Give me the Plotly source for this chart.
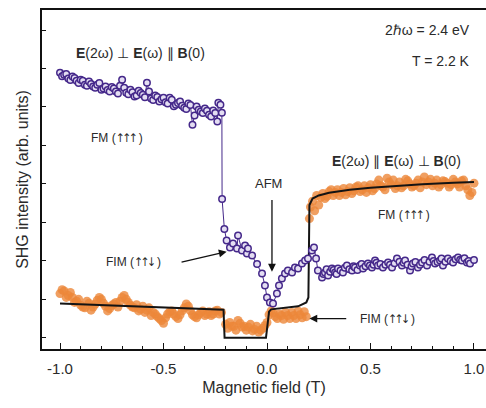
import plotly.graph_objects as go

# Sweep for E(2w) ⟂ E(w) ∥ B(0): open purple circles (sweep order)
purple_x = [
    -1.00, -0.99, -0.98, -0.97, -0.96, -0.95, -0.94, -0.93, -0.92, -0.91,
    -0.90, -0.89, -0.88, -0.87, -0.86, -0.85, -0.84, -0.83, -0.82, -0.81,
    -0.80, -0.79, -0.78, -0.77, -0.76, -0.75, -0.74, -0.73, -0.72, -0.71,
    -0.70, -0.69, -0.68, -0.67, -0.66, -0.65, -0.64, -0.63, -0.62, -0.61,
    -0.60, -0.59, -0.58, -0.57, -0.56, -0.55, -0.54, -0.53, -0.52, -0.51,
    -0.50, -0.49, -0.48, -0.47, -0.46, -0.45, -0.44, -0.43, -0.42, -0.41,
    -0.40, -0.39, -0.38, -0.37, -0.36, -0.35, -0.34, -0.33, -0.32, -0.31,
    -0.30, -0.29, -0.28, -0.27, -0.26, -0.25, -0.24, -0.235, -0.225, -0.218,
    -0.217, -0.206, -0.195, -0.179, -0.164, -0.145, -0.140, -0.121, -0.106, -0.097,
    -0.092, -0.072, -0.048, -0.024, -0.010, 0.000, 0.014, 0.029, 0.048, 0.058,
    0.072, 0.087, 0.101, 0.121, 0.135, 0.150, 0.169, 0.184, 0.198, 0.217,
    0.227, 0.237, 0.246, 0.266, 0.273, 0.280, 0.288, 0.295, 0.305, 0.314,
    0.322, 0.329, 0.336, 0.343, 0.355, 0.367, 0.376, 0.386, 0.398, 0.411,
    0.418, 0.425, 0.437, 0.449, 0.457, 0.464, 0.476, 0.488, 0.497, 0.507,
    0.515, 0.522, 0.529, 0.536, 0.548, 0.560, 0.572, 0.585, 0.594, 0.604,
    0.616, 0.628, 0.640, 0.652, 0.660, 0.667, 0.679, 0.691, 0.698, 0.705,
    0.717, 0.729, 0.739, 0.749, 0.761, 0.773, 0.785, 0.797, 0.805, 0.812,
    0.824, 0.836, 0.843, 0.850, 0.862, 0.874, 0.887, 0.899, 0.911, 0.923,
    0.933, 0.942, 0.954, 0.966, 0.974, 0.981, 1.000,
]
purple_y = [
    6.89, 6.80, 6.84, 6.86, 6.74, 6.70, 6.79, 6.75, 6.68, 6.62,
    6.71, 6.68, 6.58, 6.55, 6.66, 6.60, 6.53, 6.50, 6.58, 6.62,
    6.45, 6.48, 6.53, 6.44, 6.40, 6.52, 6.48, 6.40, 6.35, 6.55,
    6.71, 6.50, 6.37, 6.33, 6.45, 6.38, 6.27, 6.30, 6.42, 6.36,
    6.32, 6.25, 6.63, 6.40, 6.22, 6.18, 6.30, 6.26, 6.14, 6.20,
    6.24, 6.12, 6.09, 6.24, 6.19, 6.02, 6.06, 6.10, 6.14, 6.03,
    5.98, 5.95, 6.09, 6.05, 5.54, 5.78, 6.01, 5.93, 5.88, 5.84,
    5.96, 5.90, 5.80, 5.75, 5.91, 5.84, 5.62, 6.11, 6.06, 5.85,
    3.61, 2.83, 2.53, 2.35, 2.45, 2.32, 2.66, 2.27, 2.40, 2.19,
    2.32, 2.14, 1.92, 1.67, 1.36, 1.05, 0.92, 0.89, 1.15, 1.36,
    1.54, 1.67, 1.75, 1.70, 1.83, 1.80, 1.93, 2.01, 2.06, 2.27,
    2.35, 2.06, 1.75, 1.57, 1.66, 1.70, 1.78, 1.62, 1.72, 1.80,
    1.76, 1.70, 1.66, 1.80, 1.75, 1.70, 1.82, 1.88, 1.78, 1.75,
    1.86, 1.83, 1.76, 1.88, 1.92, 1.80, 1.86, 1.93, 1.88, 1.83,
    1.90, 2.01, 1.95, 1.88, 1.92, 1.83, 1.90, 1.96, 1.90, 1.83,
    1.94, 2.06, 1.98, 1.88, 1.95, 2.01, 1.90, 1.75, 1.86, 1.93,
    1.97, 1.83, 1.90, 1.96, 2.02, 1.88, 1.98, 2.09, 2.00, 1.93,
    1.97, 2.01, 2.06, 1.88, 1.98, 2.06, 2.00, 1.96, 2.04, 2.09,
    2.03, 2.01, 2.07, 1.96, 2.00, 1.93, 2.02,
]

# Sweep for E(2w) ∥ E(w) ⟂ B(0): filled orange dots
orange_x = [
    -1.00, -0.99, -0.98, -0.97, -0.96, -0.95, -0.94, -0.93, -0.92, -0.91,
    -0.90, -0.89, -0.88, -0.87, -0.86, -0.85, -0.84, -0.83, -0.82, -0.81,
    -0.80, -0.79, -0.78, -0.77, -0.76, -0.75, -0.74, -0.73, -0.72, -0.71,
    -0.70, -0.69, -0.68, -0.67, -0.66, -0.65, -0.64, -0.63, -0.62, -0.61,
    -0.60, -0.59, -0.58, -0.57, -0.56, -0.55, -0.54, -0.53, -0.52, -0.51,
    -0.50, -0.49, -0.48, -0.47, -0.46, -0.45, -0.44, -0.43, -0.42, -0.41,
    -0.40, -0.39, -0.38, -0.37, -0.36, -0.35, -0.34, -0.33, -0.32, -0.31,
    -0.30, -0.29, -0.28, -0.27, -0.26, -0.25, -0.24, -0.23, -0.22,
    -0.20, -0.19, -0.18, -0.17, -0.16, -0.15, -0.14, -0.13, -0.12, -0.11,
    -0.10, -0.09, -0.08, -0.07, -0.06, -0.05, -0.04, -0.03, -0.02, -0.01,
    0.00, 0.01, 0.02, 0.03, 0.04, 0.05, 0.06, 0.07, 0.08, 0.09,
    0.10, 0.11, 0.12, 0.13, 0.14, 0.15, 0.16, 0.17, 0.18, 0.19,
    0.205, 0.21, 0.22, 0.23, 0.24, 0.25, 0.26, 0.27, 0.28, 0.29,
    0.30, 0.31, 0.32, 0.33, 0.34, 0.35, 0.36, 0.37, 0.38, 0.39,
    0.40, 0.41, 0.42, 0.43, 0.44, 0.45, 0.46, 0.47, 0.48, 0.49,
    0.50, 0.51, 0.52, 0.53, 0.54, 0.55, 0.56, 0.57, 0.58, 0.59,
    0.60, 0.61, 0.62, 0.63, 0.64, 0.65, 0.66, 0.67, 0.68, 0.69,
    0.70, 0.71, 0.72, 0.73, 0.74, 0.75, 0.76, 0.77, 0.78, 0.79,
    0.80, 0.81, 0.82, 0.83, 0.84, 0.85, 0.86, 0.87, 0.88, 0.89,
    0.90, 0.91, 0.92, 0.93, 0.94, 0.95, 0.96, 0.97, 0.98, 0.99,
    1.00,
]
orange_y = [
    1.15, 1.25, 1.22, 1.05, 1.10, 1.18, 1.05, 0.92, 0.95, 1.00,
    0.85, 0.80, 0.78, 0.95, 0.90, 0.72, 0.80, 0.88, 0.98, 1.05,
    1.00, 0.90, 0.82, 0.70, 0.76, 0.84, 0.88, 0.92, 0.80, 0.95,
    1.05, 1.10, 1.00, 0.92, 0.85, 0.80, 0.78, 0.86, 0.70, 0.74,
    0.82, 0.66, 0.72, 0.78, 0.58, 0.66, 0.62, 0.55, 0.50, 0.45,
    0.38, 0.52, 0.62, 0.68, 0.70, 0.62, 0.55, 0.50, 0.60, 0.70,
    0.78, 0.88, 0.82, 0.70, 0.60, 0.55, 0.52, 0.60, 0.66, 0.70,
    0.58, 0.62, 0.68, 0.58, 0.62, 0.70, 0.72, 0.62, 0.66,
    0.35, 0.25, 0.40, 0.30, 0.30, 0.20, 0.45, 0.38, 0.28, 0.30,
    0.20, 0.28, 0.35, 0.18, 0.22, 0.30, 0.15, 0.20, 0.25, 0.32,
    0.40, 0.60, 0.70, 0.65, 0.55, 0.50, 0.62, 0.58, 0.48, 0.66,
    0.58, 0.50, 0.66, 0.58, 0.50, 0.70, 0.60, 0.52, 0.68, 0.55,
    3.10, 3.40, 3.55, 3.30, 3.70, 3.45, 3.65, 3.75, 3.62, 3.68,
    3.80, 3.85, 3.70, 3.78, 3.85, 3.70, 3.78, 3.88, 3.72, 3.80,
    3.90, 3.75, 3.82, 3.92, 3.95, 3.80, 3.85, 3.95, 3.78, 3.90,
    3.98, 3.82, 3.88, 4.00, 4.10, 3.95, 3.92, 3.85, 4.15, 4.05,
    3.98, 4.10, 3.88, 3.95, 4.05, 3.90, 3.95, 4.12, 4.08, 4.00,
    3.92, 3.95, 4.02, 4.10, 3.90, 4.05, 4.18, 3.98, 4.05, 4.12,
    3.95, 4.02, 4.10, 3.92, 3.98, 4.08, 4.06, 4.02, 3.92, 3.98,
    4.12, 4.05, 4.00, 3.92, 4.08, 4.10, 3.95, 3.85, 3.70, 3.78,
    4.02,
]

# Model curve through the orange sweep
fit_x = [-1.00, -0.50, -0.21, -0.205, -0.005, 0.01, 0.02, 0.15, 0.19, 0.20,
         0.205, 0.22, 0.25, 0.30, 0.40, 0.50, 0.60, 0.75, 0.90, 1.00]
fit_y = [0.89, 0.80, 0.73, 0.00, 0.00, 0.68, 0.74, 0.82, 0.92, 1.05,
         3.45, 3.62, 3.70, 3.77, 3.85, 3.90, 3.94, 3.99, 4.03, 4.05]

x_ticks = [-1.0, -0.5, 0.0, 0.5, 1.0]
x_tick_text = ["-1.0", "-0.5", "0.0", "0.5", "1.0"]
y_ticks = [0, 1, 2, 3, 4, 5, 6, 7, 8]

PURPLE = "#45288a"
ORANGE = "#ec873a"
TEXT = "#2a2a2a"
FONT = "Liberation Sans, Arial, sans-serif"


def spins(arrows):
    # arrow glyphs set in a condensed face, packed tightly
    return ('<span style="font-family:DejaVu Sans Condensed, DejaVu Sans;'
            'letter-spacing:-2.5px">' + arrows + "</span>")


fig = go.Figure()

fig.add_trace(go.Scatter(
    x=orange_x, y=orange_y, mode="markers",
    marker=dict(symbol="circle", size=9, color=ORANGE, opacity=0.8,
                line=dict(width=0)),
    hoverinfo="skip", showlegend=False,
))

fig.add_trace(go.Scatter(
    x=fit_x, y=fit_y, mode="lines",
    line=dict(color="#141414", width=2),
    hoverinfo="skip", showlegend=False,
))

fig.add_trace(go.Scatter(
    x=purple_x, y=purple_y, mode="lines+markers",
    line=dict(color=PURPLE, width=1),
    marker=dict(symbol="circle", size=6.5, color="rgba(228,222,242,1)",
                line=dict(color=PURPLE, width=1.5)),
    hoverinfo="skip", showlegend=False,
))

annotations = [
    # headers
    dict(x=-0.61, y=7.41, text="<b>E</b>(2ω) ⊥ <b>E</b>(ω) ∥ <b>B</b>(0)",
         showarrow=False, font=dict(size=14, color=TEXT)),
    dict(x=0.628, y=4.6, text="<b>E</b>(2ω) ∥ <b>E</b>(ω) ⊥ <b>B</b>(0)",
         showarrow=False, font=dict(size=14, color=TEXT)),
    dict(x=0.99, y=8.0, text="2ℏω = 2.4 eV", xanchor="right",
         showarrow=False, font=dict(size=14, color=TEXT)),
    dict(x=0.99, y=7.2, text="T = 2.2 K", xanchor="right",
         showarrow=False, font=dict(size=14, color=TEXT)),
    # phase labels
    dict(x=-0.725, y=5.2, text="FM (" + spins("↑↑↑") + " )", showarrow=False,
         font=dict(size=12, color=TEXT)),
    dict(x=0.662, y=3.2, text="FM (" + spins("↑↑↑") + " )", showarrow=False,
         font=dict(size=12, color=TEXT)),
    dict(x=0.005, y=4.02, text="AFM", showarrow=False,
         font=dict(size=13, color=TEXT)),
    dict(x=-0.647, y=1.96, text="FIM (" + spins("↑↑↓") + " )", showarrow=False,
         font=dict(size=12, color=TEXT)),
    dict(x=0.58, y=0.50, text="FIM (" + spins("↑↑↓") + " )", showarrow=False,
         font=dict(size=12, color=TEXT)),
    # arrows
    dict(x=0.024, y=1.72, ax=0.024, ay=3.62, axref="x", ayref="y",
         text="", showarrow=True, arrowhead=2, arrowsize=1.2, arrowwidth=1.3,
         arrowcolor="#111"),
    dict(x=-0.195, y=2.24, ax=-0.42, ay=1.96, axref="x", ayref="y",
         text="", showarrow=True, arrowhead=2, arrowsize=1.2, arrowwidth=1.3,
         arrowcolor="#111"),
    dict(x=0.205, y=0.50, ax=0.39, ay=0.50, axref="x", ayref="y",
         text="", showarrow=True, arrowhead=2, arrowsize=1.2, arrowwidth=1.3,
         arrowcolor="#111"),
]

fig.update_layout(
    width=486, height=408,
    margin=dict(l=42, r=0, t=10, b=59),
    paper_bgcolor="white", plot_bgcolor="white",
    font=dict(family=FONT, color=TEXT),
    annotations=annotations,
    xaxis=dict(
        range=[-1.087, 1.058], showgrid=False, zeroline=False,
        showline=True, linecolor="#111", linewidth=1.5, mirror=True,
        ticks="inside", ticklen=6, tickwidth=1.3, tickcolor="#111",
        tickvals=x_ticks, ticktext=x_tick_text, ticklabelstandoff=5,
        tickfont=dict(size=15, color=TEXT),
        minor=dict(dtick=0.1, tick0=0, ticks="inside", ticklen=3,
                   tickwidth=1, tickcolor="#111"),
        title=dict(text="Magnetic field (T)", font=dict(size=16, color=TEXT),
                   standoff=6),
    ),
    yaxis=dict(
        range=[-0.29, 8.52], showgrid=False, zeroline=False,
        showline=True, linecolor="#111", linewidth=1.5,
        ticks="inside", ticklen=4, tickwidth=1.2, tickcolor="#111",
        tickvals=y_ticks, showticklabels=False,
        title=dict(text="SHG intensity (arb. units)",
                   font=dict(size=16, color=TEXT), standoff=8),
    ),
)

fig.write_html("out.html")
